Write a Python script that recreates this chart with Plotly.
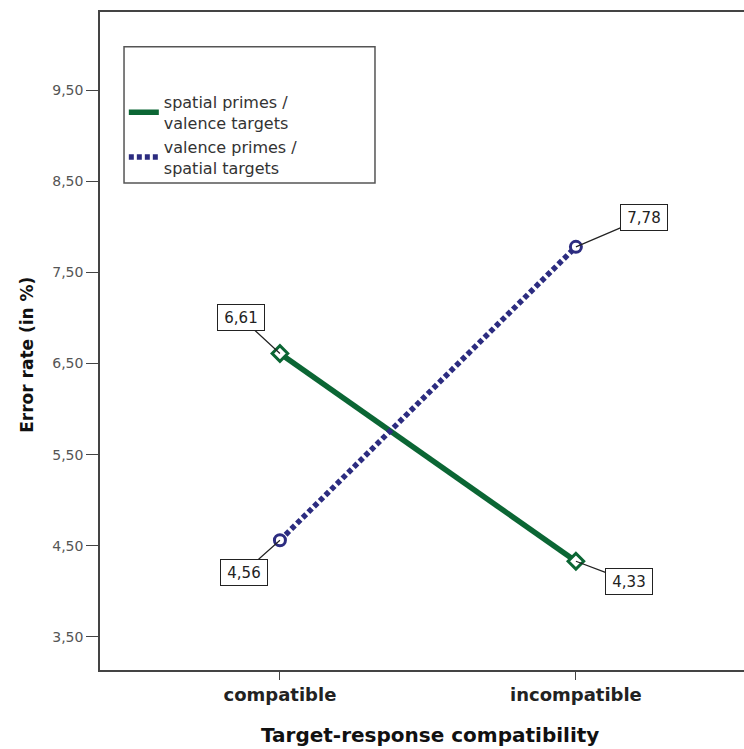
import plotly.graph_objects as go

categories = ["compatible", "incompatible"]
spatial_primes = [6.61, 4.33]
valence_primes = [4.56, 7.78]
series_names = ["spatial primes /<br>valence targets", "valence primes /<br>spatial targets"]
y_ticks = [3.5, 4.5, 5.5, 6.5, 7.5, 8.5, 9.5]
x_title = "Target-response compatibility"
y_title = "Error rate (in %)"

GREEN = "#0b6634"
NAVY = "#2c2c80"
DOTS = "5px,3px"

fig = go.Figure()
fig.add_trace(go.Scatter(
    x=[0, 1], y=spatial_primes, name=series_names[0], mode="lines+markers",
    line=dict(color=GREEN, width=5.5), showlegend=False,
    marker=dict(symbol="diamond", size=12, color="white", line=dict(color=GREEN, width=3)),
))
fig.add_trace(go.Scatter(
    x=[0, 1], y=valence_primes, name=series_names[1], mode="lines+markers",
    line=dict(color=NAVY, width=5.5, dash=DOTS), showlegend=False,
    marker=dict(symbol="circle", size=11, color="white", line=dict(color=NAVY, width=3)),
))
# legend entries (line samples only)
fig.add_trace(go.Scatter(x=[None], y=[None], mode="lines", name=series_names[0],
                         line=dict(color=GREEN, width=5.5)))
fig.add_trace(go.Scatter(x=[None], y=[None], mode="lines", name=series_names[1],
                         line=dict(color=NAVY, width=5.5, dash=DOTS)))

label_offsets = {
    (0, 0): (-39, -36),
    (0, 1): (53, 20),
    (1, 0): (-36, 32),
    (1, 1): (68, -29),
}
for si, vals in enumerate([spatial_primes, valence_primes]):
    for ci, v in enumerate(vals):
        ax, ay = label_offsets[(si, ci)]
        fig.add_annotation(
            x=ci, y=v, text=f"{v:.2f}".replace(".", ","),
            showarrow=True, arrowhead=0, arrowwidth=1.2, arrowcolor="#222",
            ax=ax, ay=ay, bgcolor="white", bordercolor="#222", borderwidth=1,
            borderpad=3, width=40, height=19,
            font=dict(family="DejaVu Sans", size=15, color="#222"),
        )

# axis titles
fig.add_annotation(xref="paper", yref="paper", x=0.512, y=-0.0988,
                   xanchor="center", yanchor="middle", showarrow=False,
                   text=x_title,
                   font=dict(size=20, color="#111", family="DejaVu Sans", weight="bold"))
fig.add_annotation(xref="paper", yref="paper", x=0, y=0.479, xshift=-73,
                   xanchor="center", yanchor="middle", showarrow=False,
                   text=y_title, textangle=-90,
                   font=dict(size=17, color="#111", family="DejaVu Sans", weight="bold"))

# legend box
fig.add_shape(type="rect", xref="paper", yref="paper",
              x0=0.0373, x1=0.427, y0=0.740, y1=0.947,
              line=dict(color="#555", width=1.5), fillcolor="white", layer="below")

fig.update_layout(
    width=744, height=749,
    margin=dict(l=100, r=0, t=12, b=79),
    plot_bgcolor="white", paper_bgcolor="white",
    separators=",.",
    showlegend=True,
    legend=dict(x=0.037, y=0.889, xanchor="left", yanchor="top",
                bgcolor="rgba(0,0,0,0)", borderwidth=0,
                font=dict(family="DejaVu Sans", size=16, color="#333"),
                tracegroupgap=1),
    font=dict(family="Liberation Sans, Arial"),
)
fig.update_xaxes(
    range=[-0.608, 1.568], tickvals=[0, 1], ticktext=categories,
    showgrid=False, zeroline=False, automargin=False,
    showline=True, mirror=True, linecolor="#444", linewidth=1.5,
    ticks="outside", ticklen=8, tickcolor="#444",
    tickfont=dict(size=18, color="#222", family="DejaVu Sans", weight="bold"),
)
fig.update_yaxes(
    range=[3.137, 10.357], tickvals=y_ticks, tickformat=".2f",
    showgrid=False, zeroline=False, automargin=False,
    showline=True, mirror=False, linecolor="#444", linewidth=1.5,
    ticks="outside", ticklen=12, tickcolor="#444",
    tickfont=dict(size=14, color="#555", family="DejaVu Sans"),
)

fig.write_html(
    "out.html",
    config={"displayModeBar": False},
    post_script="document.body.style.margin='0';document.body.style.overflow='hidden';",
)
